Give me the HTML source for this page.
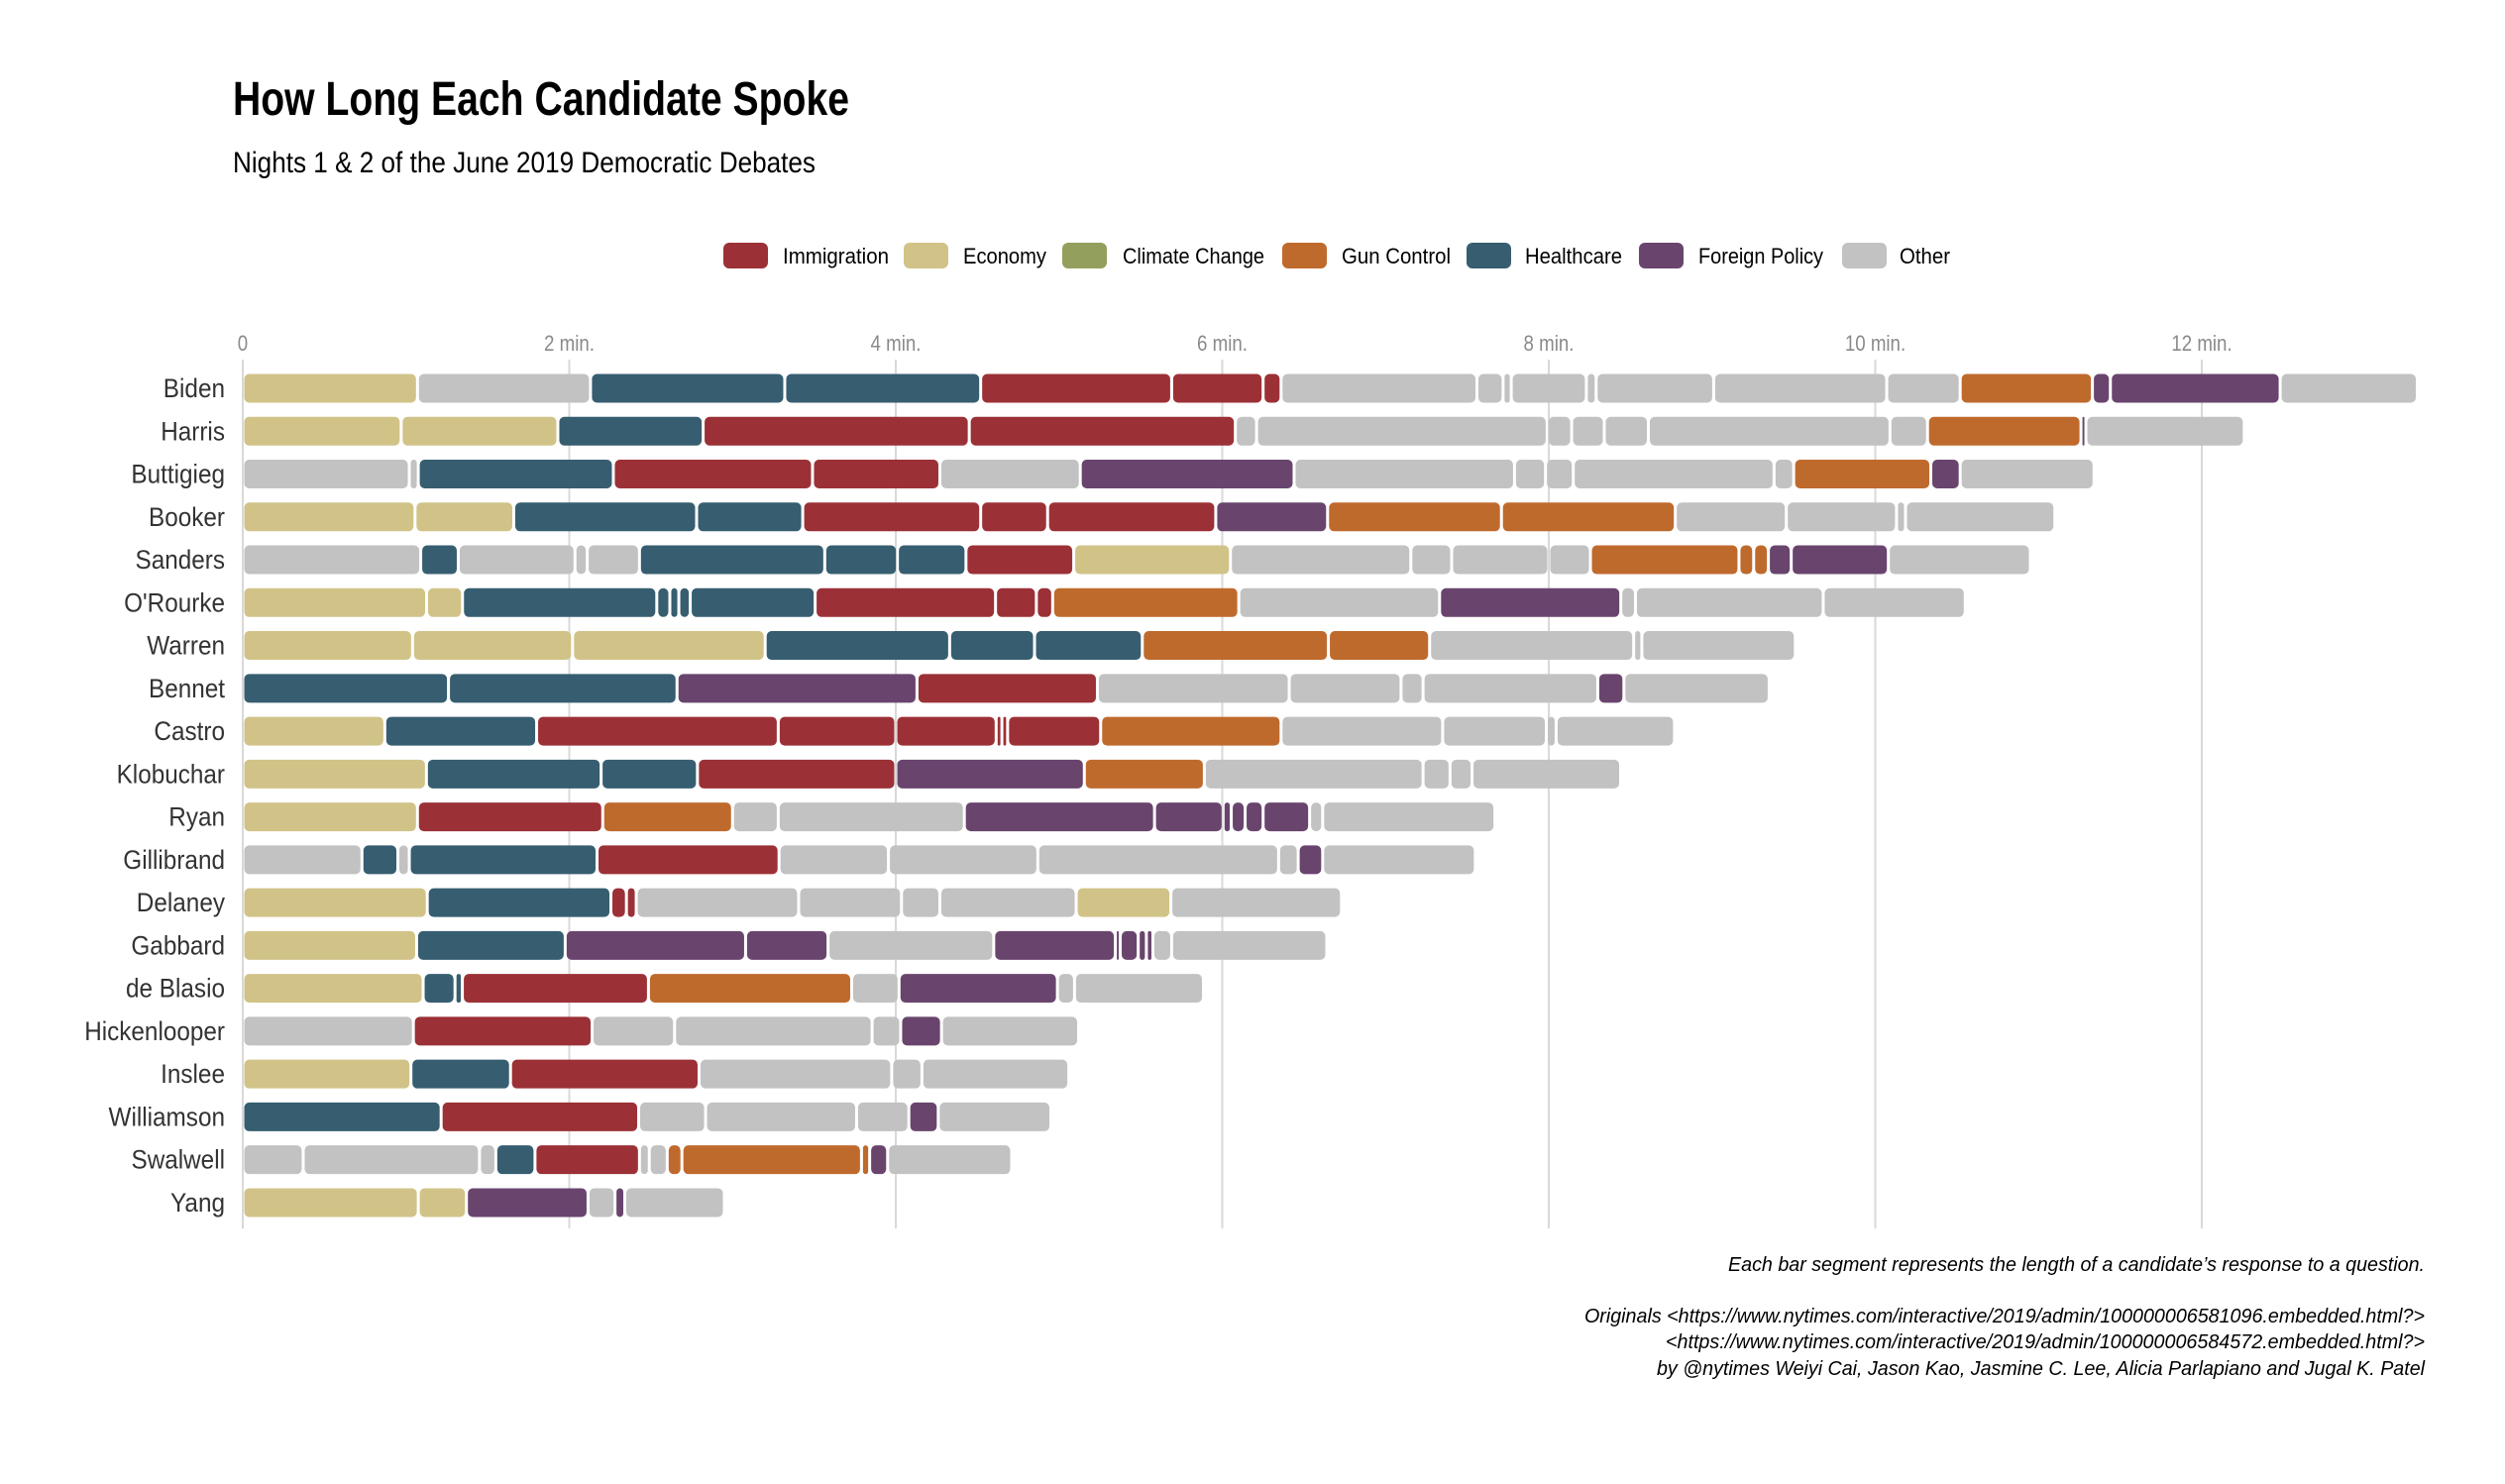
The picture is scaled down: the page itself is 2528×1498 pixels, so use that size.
<!DOCTYPE html>
<html><head><meta charset="utf-8"><style>
html,body{margin:0;padding:0;background:#fff;}
svg{display:block;font-family:"Liberation Sans Narrow","Liberation Sans",sans-serif;}
</style></head><body>
<svg id="chart" width="2528" height="1498" viewBox="0 0 2528 1498" xmlns="http://www.w3.org/2000/svg">
<rect width="2528" height="1498" fill="#fff"/>
<text x="235" y="116" font-size="48" font-weight="bold" fill="#000" textLength="622" lengthAdjust="spacingAndGlyphs">How Long Each Candidate Spoke</text>
<text x="235" y="174" font-size="30" fill="#000" textLength="588" lengthAdjust="spacingAndGlyphs">Nights 1 &amp; 2 of the June 2019 Democratic Debates</text>
<g id="legend"></g>
<g id="grid"></g>
<g id="xticks"></g>
<g id="bars"></g>
<g id="ylabels"></g>
<g font-style="italic" font-size="20" fill="#000" text-anchor="end">
<text x="2447" y="1283" textLength="703" lengthAdjust="spacingAndGlyphs">Each bar segment represents the length of a candidate’s response to a question.</text>
<text x="2447" y="1335" textLength="848" lengthAdjust="spacingAndGlyphs">Originals &lt;https://www.nytimes.com/interactive/2019/admin/100000006581096.embedded.html?&gt;</text>
<text x="2447" y="1361" textLength="766" lengthAdjust="spacingAndGlyphs">&lt;https://www.nytimes.com/interactive/2019/admin/100000006584572.embedded.html?&gt;</text>
<text x="2447" y="1388" textLength="775" lengthAdjust="spacingAndGlyphs">by @nytimes Weiyi Cai, Jason Kao, Jasmine C. Lee, Alicia Parlapiano and Jugal K. Patel</text>
</g>
</svg>
<script>
const candidates = ["Biden","Harris","Buttigieg","Booker","Sanders","O'Rourke","Warren","Bennet","Castro","Klobuchar","Ryan","Gillibrand","Delaney","Gabbard","de Blasio","Hickenlooper","Inslee","Williamson","Swalwell","Yang"];
const topicNames = ["Immigration","Economy","Climate Change","Gun Control","Healthcare","Foreign Policy","Other"];
const topicCodes = ["I","E","C","G","H","F","O"];
const xTickValues = [0,2,4,6,8,10,12];
const xTickLabels = ["0","2 min.","4 min.","6 min.","8 min.","10 min.","12 min."];
const segTopics = [
 ["E","O","H","H","I","I","I","O","O","O","O","O","O","O","O","G","F","F","O"],
 ["E","E","H","I","I","O","O","O","O","O","O","O","G","F","O"],
 ["O","O","H","I","I","O","F","O","O","O","O","O","G","F","O"],
 ["E","E","H","H","I","I","I","F","G","G","O","O","O","O"],
 ["O","H","O","O","O","H","H","H","I","E","O","O","O","O","G","G","G","F","F","O"],
 ["E","E","H","H","H","H","H","I","I","I","G","O","F","O","O","O"],
 ["E","E","E","H","H","H","G","G","O","O","O"],
 ["H","H","F","I","O","O","O","O","F","O"],
 ["E","H","I","I","I","I","I","I","G","O","O","O","O"],
 ["E","H","H","I","F","G","O","O","O","O"],
 ["E","I","G","O","O","F","F","F","F","F","F","O","O"],
 ["O","H","O","H","I","O","O","O","O","F","O"],
 ["E","H","I","I","O","O","O","O","E","O"],
 ["E","H","F","F","O","F","F","F","F","F","O","O"],
 ["E","H","H","I","G","O","F","O","O"],
 ["O","I","O","O","O","F","O"],
 ["E","H","I","O","O","O"],
 ["H","I","O","O","O","F","O"],
 ["O","O","O","H","I","O","O","G","G","G","F","O"],
 ["E","E","F","O","F","O"]
];
const segMinutes = [
 [1.07,1.06,1.19,1.20,1.17,0.56,0.11,1.20,0.16,0.05,0.46,0.06,0.72,1.06,0.45,0.81,0.11,1.04,0.84],
 [0.97,0.96,0.89,1.63,1.63,0.13,1.78,0.15,0.20,0.27,1.48,0.23,0.94,0.03,0.97],
 [1.02,0.055,1.195,1.22,0.78,0.86,1.31,1.35,0.19,0.17,1.23,0.12,0.84,0.18,0.82],
 [1.055,0.605,1.12,0.65,1.09,0.41,1.03,0.685,1.065,1.065,0.68,0.675,0.055,0.915],
 [1.09,0.23,0.715,0.075,0.32,1.135,0.445,0.42,0.66,0.96,1.105,0.25,0.595,0.255,0.91,0.09,0.09,0.14,0.595,0.87],
 [1.126,0.22,1.19,0.08,0.055,0.07,0.765,1.105,0.25,0.10,1.14,1.23,1.11,0.09,1.15,0.87],
 [1.04,0.98,1.18,1.13,0.52,0.66,1.14,0.62,1.25,0.05,0.94],
 [1.26,1.40,1.47,1.105,1.175,0.685,0.135,1.07,0.16,0.89],
 [0.87,0.93,1.48,0.72,0.615,0.035,0.035,0.57,1.105,0.99,0.635,0.06,0.725],
 [1.125,1.07,0.59,1.215,1.155,0.735,1.34,0.165,0.135,0.91],
 [1.07,1.135,0.795,0.28,1.14,1.165,0.42,0.05,0.085,0.11,0.285,0.08,1.055],
 [0.73,0.22,0.07,1.15,1.115,0.67,0.915,1.475,0.12,0.15,0.935],
 [1.13,1.125,0.095,0.06,0.995,0.63,0.235,0.835,0.58,1.045],
 [1.065,0.91,1.105,0.505,1.015,0.745,0.03,0.11,0.05,0.04,0.115,0.95],
 [1.105,0.195,0.045,1.14,1.245,0.29,0.97,0.105,0.79],
 [1.045,1.095,0.505,1.21,0.175,0.25,0.84],
 [1.03,0.61,1.155,1.18,0.185,0.90],
 [1.215,1.21,0.41,0.925,0.32,0.18,0.69],
 [0.37,1.08,0.10,0.24,0.64,0.06,0.11,0.09,1.10,0.05,0.11,0.76],
 [1.075,0.295,0.745,0.165,0.06,0.61]
];
const topicColors = {I:"#9b3136",E:"#d1c388",C:"#939f5c",G:"#bf6a2d",H:"#365e70",F:"#69456e",O:"#c2c2c2"};
const NS="http://www.w3.org/2000/svg";
const X0=245, PXMIN=164.75, ROW0=392, ROWSTEP=43.26, BARH=29;
function xScale(m){return X0+m*PXMIN;}
function yScale(i){return ROW0+i*ROWSTEP;}
function mk(tag,attrs,parent){const e=document.createElementNS(NS,tag);for(const k in attrs)e.setAttribute(k,attrs[k]);parent.appendChild(e);return e;}
function narrow(t,f){const w=t.getComputedTextLength();t.setAttribute('textLength',(w*f).toFixed(1));t.setAttribute('lengthAdjust','spacingAndGlyphs');}

// legend
const legend=document.getElementById('legend');
const swX=[730,912,1072,1294,1480,1654,1859];
const txX=[790,972,1133,1354,1539,1714,1917];
const txW=[107,84,143,110,98,126,51];
topicNames.forEach((n,i)=>{
  const r=mk('rect',{x:swX[i],y:245,width:45,height:26,rx:6,fill:topicColors[topicCodes[i]]},legend);
  
  
  const t=mk('text',{x:txX[i],y:266,'font-size':22,fill:'#000',textLength:txW[i],lengthAdjust:'spacingAndGlyphs'},legend);
  t.textContent=n;
  
  
});

// grid + ticks
const grid=document.getElementById('grid'), xt=document.getElementById('xticks');
xTickValues.forEach((v,i)=>{
  const l=mk('line',{x1:xScale(v),x2:xScale(v),y1:363,y2:1240,stroke:'#d9d9d9','stroke-width':2},grid);
  
  
  const t=mk('text',{x:xScale(v),y:354,'font-size':22,fill:'#8a8a8a','text-anchor':'middle'},xt);
  t.textContent=xTickLabels[i];
  
  
  narrow(t,0.85);
});

// bars + labels
const bars=document.getElementById('bars'), yl=document.getElementById('ylabels');
candidates.forEach((c,i)=>{
  const cy=yScale(i);
  const t=mk('text',{x:227,y:cy+9,'font-size':27,fill:'#333','text-anchor':'end'},yl);
  t.textContent=c;
  
  
  narrow(t,0.9);
  let acc=0;
  segMinutes[i].forEach((d,j)=>{
    const x1=xScale(acc)+1.5, x2=xScale(acc+d)-1.5;
    acc+=d;
    const w=Math.max(1.2,x2-x1);
    const r=mk('rect',{x:x1,y:cy-BARH/2,width:w,height:BARH,rx:Math.min(5,w/2),fill:topicColors[segTopics[i][j]]},bars);
    
    
  });
});
</script>
</body></html>
